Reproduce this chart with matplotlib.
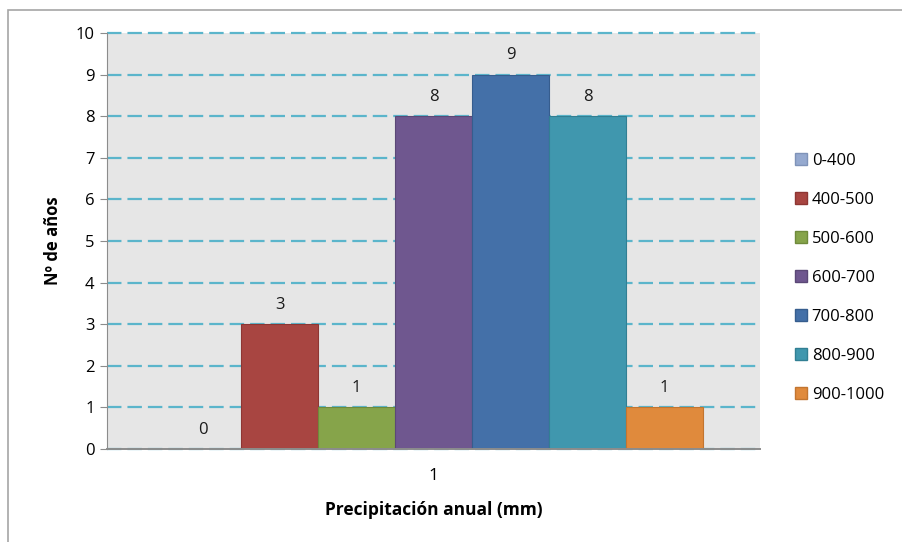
import matplotlib.pyplot as plt
import matplotlib.patches as mpatches
import numpy as np

plt.rcParams['font.family'] = ['Open Sans', 'DejaVu Sans']

ranges = ['0-400', '400-500', '500-600', '600-700', '700-800', '800-900', '900-1000']
years = [0, 3, 1, 8, 9, 8, 1]
colors = ['#95A9CF', '#A84541', '#86A44A', '#6F578F', '#4470A8', '#4097AE', '#E08A3C']
edges = ['#7F93B8', '#8E3633', '#6F8A3B', '#5B4876', '#365D8E', '#317F93', '#C27530']

fig = plt.figure(figsize=(9.02, 5.42), dpi=100)
ax = fig.add_axes([107/902, 1-449/542, (760-107)/902, (449-33)/542])

# outer chart border (only left and top visible in the crop)
fig.patches.append(mpatches.Rectangle((8/902, -0.05), 1.1, 1-10/542+0.05,
                                      transform=fig.transFigure, fill=False,
                                      edgecolor='#A6A6A6', linewidth=1.2))

w = 77/653 * 1.0
n = len(years)
x0 = 1 - w*n/2
ax.set_facecolor('#E6E6E6')
for i in range(n):
    xi = x0 + w*(i+0.5)
    ax.bar(xi, years[i], width=w, color=colors[i], edgecolor=edges[i],
           linewidth=0.8, label=ranges[i], zorder=3)
    ax.annotate(str(years[i]), (xi, years[i]), xytext=(0, 8), textcoords='offset points',
                ha='center', va='bottom', fontsize=12, color='#1A1A1A')

ax.set_xlim(0.5, 1.5)
ax.set_ylim(0, 10)
ax.set_yticks(range(0, 11))
ax.set_xticks([1])
ax.set_xticklabels(['1'])
ax.yaxis.grid(True, linestyle=(0, (6.5, 2.7)), color='#5BB5CB', linewidth=1.6, zorder=1)
for gl in ax.get_ygridlines():
    gl.set_clip_on(False)
ax.set_axisbelow(True)
for s in ['top', 'right']:
    ax.spines[s].set_visible(False)
ax.spines['left'].set_color('#8C8C8C')
ax.spines['bottom'].set_color('#8C8C8C')
ax.spines['left'].set_zorder(4)
ax.spines['bottom'].set_zorder(4)
ax.spines['bottom'].set_linewidth(1.4)
ax.tick_params(axis='y', length=5, color='#8C8C8C', labelsize=12, pad=4)
ax.tick_params(axis='x', length=0, labelsize=12.5, pad=14)

ax.set_ylabel('Nº de años', fontsize=12, fontweight='bold', labelpad=10)
ax.set_xlabel('Precipitación anual (mm)', fontsize=12.5, fontweight='bold', labelpad=12)

handles = [mpatches.Patch(facecolor=colors[i], edgecolor=edges[i], label=ranges[i]) for i in range(n)]
fig.legend(handles=handles, loc='center left', bbox_to_anchor=(780/902, 1-278/542),
           frameon=False, fontsize=12, handlelength=0.7, handleheight=0.7,
           handletextpad=0.3, labelspacing=1.38)

fig.savefig('out.png', dpi=100)
